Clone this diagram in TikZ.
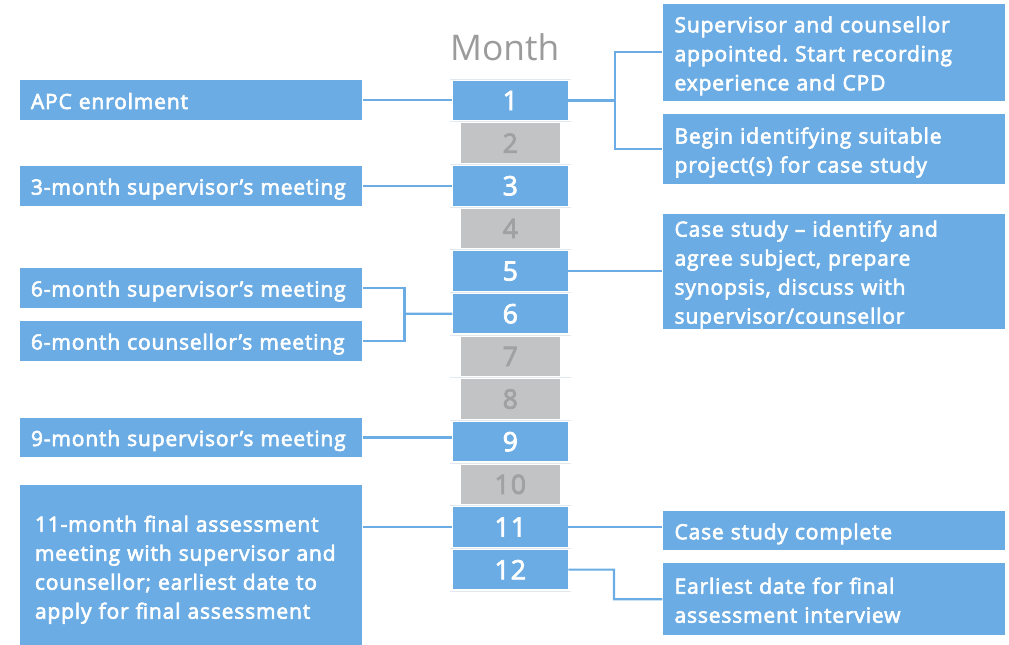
\documentclass[tikz,border=0pt]{standalone}
\usepackage{fontspec}
\IfFontExistsTF{Open Sans SemiBold}
  {\setmainfont{Open Sans}[BoldFont={Open Sans SemiBold}]}
  {\setmainfont{Open Sans}[BoldFont={Open Sans}, BoldFeatures={FakeBold=3, LetterSpace=4}]}
\frenchspacing
\definecolor{apcblue}{RGB}{106,172,227}
\definecolor{apcgrey}{RGB}{194,195,197}
\definecolor{apcgreytext}{RGB}{160,161,163}
\definecolor{apcmonth}{RGB}{155,155,155}
\definecolor{apcrule}{RGB}{226,232,239}
\tikzset{
  monthlabel/.style={anchor=base, inner sep=0pt, text=apcmonth, font=\fontsize{26.5}{30}\selectfont},
  monthbox/.style={fill=apcblue, text=white, minimum width=86.6pt, minimum height=29.6pt, inner sep=0pt, font=\fontsize{20}{24}\selectfont\bfseries},
  greybox/.style={fill=apcgrey, text=apcgreytext, minimum width=74.6pt, minimum height=29.6pt, inner sep=0pt, font=\fontsize{20}{24}\selectfont\bfseries},
  eventbox/.style={fill=apcblue, text=white, anchor=west, align=left, inner ysep=0pt, text height=17.5pt, text depth=4pt, font=\fontsize{15.75}{21.75}\selectfont\bfseries},
  leftbox/.style={eventbox, inner xsep=8.25pt, text width=240.2pt, minimum height=29.6pt},
  rightbox/.style={eventbox, inner xsep=9pt, text width=238.7pt},
  monthrule/.style={draw=apcrule, line width=0.6pt},
  conn/.style={draw=apcblue, line width=1.6pt}
}
\begin{document}
\begin{tikzpicture}[x=0.75pt,y=0.75pt,yscale=-1,xscale=1]
\useasboundingbox (0,0) rectangle (1009,645);

% Text Node
\node[monthlabel] (month) at (504.7,61) {Month};

%Straight Lines: faint rules between the months
\foreach \i in {1,...,13}
  \draw[monthrule] (450,{100.5+(\i-1)*42.65-21.3}) -- (571,{100.5+(\i-1)*42.65-21.3});

%Shape: Rectangle: months with an event
\foreach \i in {1,3,5,6,9,11,12}
  \node[monthbox] (m\i) at (510.3,{100.5+(\i-1)*42.65}) {\i};
%Shape: Rectangle: months without one
\foreach \i in {2,4,7,8,10}
  \node[greybox] (m\i) at (510.3,{100.5+(\i-1)*42.65}) {\i};

% Left column
\node[leftbox] (a1) at (19.7,100) {APC enrolment};
\node[leftbox, text height=16.8pt] (a3) at (19.7,186) {3-month supervisor’s meeting};
\node[leftbox, text height=16.8pt] (a6s) at (19.7,288) {6-month supervisor’s meeting};
\node[leftbox, text height=16.8pt] (a6c) at (19.7,341) {6-month counsellor’s meeting};
\node[leftbox, text height=16.8pt] (a9) at (19.7,437.5) {9-month supervisor’s meeting};
\node[eventbox, inner xsep=11.25pt, text width=234.2pt, text height=11.8pt, text depth=69.25pt, minimum height=127.5pt] (a11) at (19.7,570)
  {11-month final assessment\\meeting with supervisor and\\counsellor; earliest date to\\apply for final assessment};

% Right column
\node[rightbox, text depth=47.5pt, minimum height=72.5pt] (r1) at (662.3,52.3)
  {Supervisor and counsellor\\appointed. Start recording\\experience and CPD};
\node[rightbox, text depth=25.75pt, minimum height=52.3pt] (r2) at (662.3,149)
  {Begin identifying suitable\\project(s) for case study};
\node[rightbox, text height=16.5pt, text depth=69.25pt, minimum height=86.3pt] (r3) at (662.3,271.8)
  {Case study – identify and\\agree subject, prepare\\synopsis, discuss with\\supervisor/counsellor};
\node[rightbox, minimum height=29.5pt] (r4) at (662.3,530.3) {Case study complete};
\node[rightbox, text depth=25.75pt, minimum height=53.8pt] (r5) at (662.3,599.2)
  {Earliest date for final\\assessment interview};

% junctions
\coordinate (j6) at (404.5,313.75);
\coordinate (j1) at (615,100.5);
\coordinate (j12) at (614,569.6);

% left connectors
\draw[conn] (a1.east) -- (a1.east -| m1.west);
\draw[conn] (a3.east) -- (a3.east -| m3.west);
\draw[conn] (a6s.east) -| (j6) |- (a6c.east);
\draw[conn] (j6) -- (m6.west);
\draw[conn] (a9.east) -- (a9.east -| m9.west);
\draw[conn] (a11.east |- m11) -- (m11.west);

% right connectors
\draw[conn] (m1.east) -- (j1);
\draw[conn] (r1.west) -| (j1) |- (r2.west);
\draw[conn] (m5.east) -- (m5.east -| r3.west);
\draw[conn] (m11.east) -- (m11.east -| r4.west);
\draw[conn] (m12.east) -- (j12) |- (r5.west);

\end{tikzpicture}
\end{document}
